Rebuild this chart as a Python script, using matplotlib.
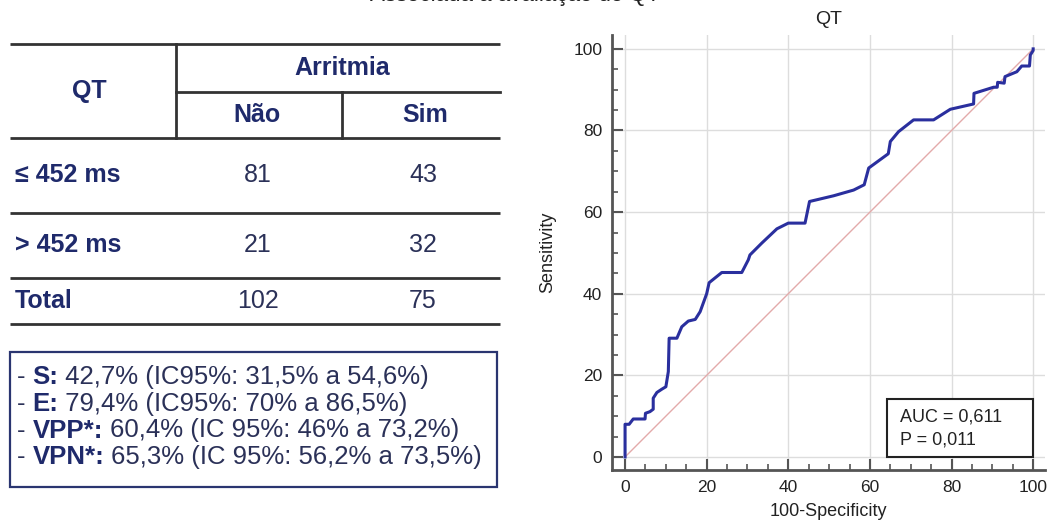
import matplotlib
matplotlib.use('Agg')
import matplotlib.pyplot as plt
from matplotlib.patches import Rectangle
from matplotlib.ticker import MultipleLocator

plt.rcParams['font.family'] = ['Liberation Sans', 'DejaVu Sans']

# table data
row_labels = ['\u2264 452 ms', '> 452 ms', 'Total']
col_labels = ['N\u00e3o', 'Sim']
nao = [81, 21, 102]
sim = [43, 32, 75]

# summary lines (bold label, rest)
stat_labels = ['S:', 'E:', 'VPP*:', 'VPN*:']
stat_texts = [' 42,7% (IC95%: 31,5% a 54,6%)',
              ' 79,4% (IC95%: 70% a 86,5%)',
              ' 60,4% (IC 95%: 46% a 73,2%)',
              ' 65,3% (IC 95%: 56,2% a 73,5%)']

# ROC curve (100-specificity, sensitivity)
roc_x = [0, 0, 1.0, 2.0, 4.9, 5.0, 6.1, 6.9, 6.9, 7.8, 9.0, 10.0, 10.6, 10.8, 12.7,
         13.9, 15.5, 17.2, 18.4, 20.0, 20.6, 23.7, 28.6, 30.2, 30.6, 33.5, 37.2,
         40.0, 44.1, 45.2, 51.1, 56.0, 58.6, 59.7, 64.5, 65.0, 67.0, 70.7, 75.6,
         79.7, 85.4, 85.5, 90.3, 91.2, 91.3, 92.9, 93.1, 96.0, 97.2, 99.1, 99.3,
         100, 100]
roc_y = [0, 8.0, 8.0, 9.3, 9.3, 10.7, 11.1, 11.7, 14.4, 15.8, 16.6, 17.2, 20.9,
         29.1, 29.1, 31.9, 33.3, 33.7, 35.6, 40.0, 42.7, 45.2, 45.2, 48.3, 49.5,
         52.4, 55.9, 57.3, 57.3, 62.6, 64.0, 65.4, 66.7, 70.8, 74.3, 77.3, 79.7,
         82.6, 82.6, 85.2, 86.5, 89.1, 90.6, 90.6, 91.8, 91.6, 93.2, 94.4, 95.8,
         95.8, 98.5, 99.6, 100]
auc_text = 'AUC = 0,611'
p_text = 'P = 0,011'

navy = '#1f2a6b'
val_col = '#2b3158'
line_col = '#333333'

fig = plt.figure(figsize=(10.53, 5.27), dpi=100)

# overlay in pixel units for the table side
ov = fig.add_axes([0, 0, 1, 1])
ov.set_xlim(0, 1053)
ov.set_ylim(527, 0)
ov.axis('off')

# caption, cut off at the top edge like in the source
ov.text(515, 1, 'Associada \u00e0 avalia\u00e7\u00e3o do QT', fontsize=16, color='#222222',
        ha='center', va='baseline', clip_on=False)

# table lines
for yy in [44, 138, 213, 278, 324]:
    ov.plot([10, 500], [yy, yy], color=line_col, lw=2, solid_capstyle='butt')
ov.plot([176, 500], [92, 92], color=line_col, lw=2)
ov.plot([176, 176], [44, 138], color=line_col, lw=2)
ov.plot([342, 342], [92, 138], color=line_col, lw=2)

fs = 18
ov.text(89, 98, 'QT', fontsize=fs, fontweight='bold', color=navy, ha='center', va='baseline')
ov.text(342, 75, 'Arritmia', fontsize=fs, fontweight='bold', color=navy, ha='center', va='baseline')
ov.text(257, 122, col_labels[0], fontsize=fs, fontweight='bold', color=navy, ha='center', va='baseline')
ov.text(425, 122, col_labels[1], fontsize=fs, fontweight='bold', color=navy, ha='center', va='baseline')

row_base = [182, 252, 308]
for i, lab in enumerate(row_labels):
    ov.text(15, row_base[i], lab, fontsize=fs, fontweight='bold', color=navy, ha='left', va='baseline')
    ov.text(258, row_base[i], str(nao[i]), fontsize=fs, color=val_col, ha='center', va='baseline')
    ov.text(423, row_base[i], str(sim[i]), fontsize=fs, color=val_col, ha='center', va='baseline')

# summary box
ov.add_patch(Rectangle((10, 352), 487, 135, fill=False, edgecolor='#2a3570', lw=1.6))
renderer = fig.canvas.get_renderer()


def text_width(s, weight, size):
    t = ov.text(0, 0, 'x' + s + 'x', fontsize=size, fontweight=weight)
    t2 = ov.text(0, 0, 'xx', fontsize=size, fontweight=weight)
    w = t.get_window_extent(renderer).width - t2.get_window_extent(renderer).width
    t.remove()
    t2.remove()
    return w


bfs = 18.5
base = [384, 411, 437.5, 464]
for i in range(4):
    x = 17
    for s, wt, c in [('- ', 'normal', val_col), (stat_labels[i], 'bold', navy),
                     (stat_texts[i], 'normal', val_col)]:
        ov.text(x, base[i], s, fontsize=bfs, fontweight=wt, color=c, ha='left', va='baseline')
        x += text_width(s, wt, bfs)

# ROC plot
ax = fig.add_axes([612 / 1053, (527 - 470) / 527, 433 / 1053, 435 / 527])
ax.set_xlim(-3.2, 102.9)
ax.set_ylim(-3.2, 103.4)
ax.plot([0, 100], [0, 100], color='#e3aaaa', lw=1)
ax.plot(roc_x, roc_y, color='#2a2f9e', lw=2.2)
ax.xaxis.set_major_locator(MultipleLocator(20))
ax.yaxis.set_major_locator(MultipleLocator(20))
ax.xaxis.set_minor_locator(MultipleLocator(5))
ax.yaxis.set_minor_locator(MultipleLocator(5))
ax.grid(True, which='major', color='#dddddd', lw=1)
ax.set_axisbelow(True)
for sp in ['top', 'right']:
    ax.spines[sp].set_visible(False)
for sp in ['left', 'bottom']:
    ax.spines[sp].set_color('#555555')
    ax.spines[sp].set_linewidth(2)
ax.tick_params(which='major', direction='in', length=8, width=1.5, color='#555555',
               labelsize=12.5, labelcolor='#222222', pad=7)
ax.tick_params(which='minor', direction='in', length=4.5, width=1.2, color='#555555')
ax.set_xlabel('100-Specificity', fontsize=13, color='#222222', labelpad=6)
ax.set_ylabel('Sensitivity', fontsize=13, color='#222222', labelpad=12)
ax.set_title('QT', fontsize=14, color='#222222', pad=8)

ax.add_patch(Rectangle((64.2, 0), 35.8, 14.2, facecolor='white', edgecolor='#222222', lw=1.5, zorder=5))
ax.text(67.4, 9.8, auc_text, fontsize=13, color='#222222', va='center', zorder=6)
ax.text(67.4, 4.2, p_text, fontsize=13, color='#222222', va='center', zorder=6)

fig.savefig('out.png', dpi=100)
